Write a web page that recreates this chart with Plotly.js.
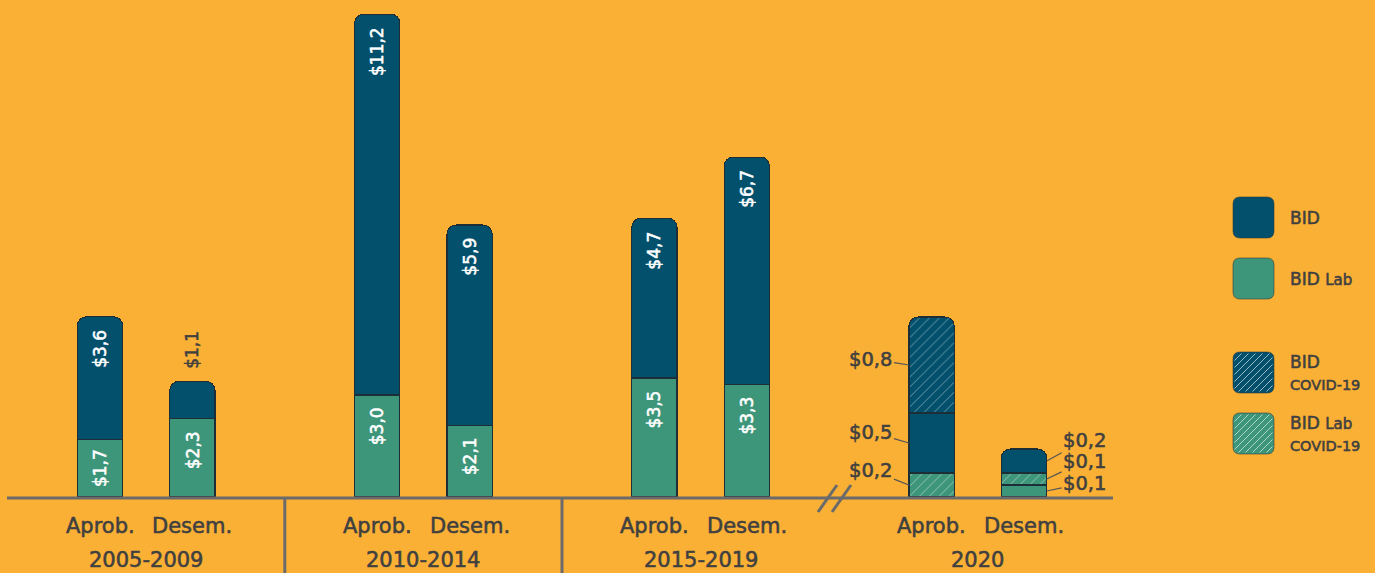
<!DOCTYPE html>
<html>
<head>
<meta charset="utf-8">
<script src="https://cdn.plot.ly/plotly-3.0.1.min.js"></script>
<style>
  html, body { margin: 0; padding: 0; background: #FAAF35; }
  #chart { width: 1375px; height: 573px; }
</style>
</head>
<body>
<div id="chart"></div>
<script>
// ---------------- DATA ----------------
const periods = ['2005-2009', '2010-2014', '2015-2019', '2020'];
const stages = ['Aprob.', 'Desem.'];
// 2005-2019 (Aprob., Desem. per period) in US$ billions
const bidLab = [1.7, 2.3, 3.0, 2.1, 3.5, 3.3];
const bid = [3.6, 1.1, 11.2, 5.9, 4.7, 6.7];
// 2020 (Aprob., Desem.) – drawn on its own scale
const bidLab2020 = [null, 0.1];
const bidLabCovid2020 = [0.2, 0.1];
const bid2020 = [0.5, 0.2];
const bidCovid2020 = [0.8, null];
const legendLabels = ['BID', 'BID <span style="font-size:15px">Lab</span>', 'BID<br><span style="font-size:14.5px">COVID-19</span>', 'BID <span style="font-size:15px">Lab</span><br><span style="font-size:14.5px">COVID-19</span>'];

// ---------------- STYLE ----------------
const BG = '#FAAF35', DARK = '#02506C', GREEN = '#3E967A', TXT = '#404040', AX = '#6B6B6B';
const W = 1375, H = 573, MB = 76, PH = H - MB;
const FONT = 'DejaVu Sans';

// categories with spacer slots between periods
const allCats = [];
const keyOf = (p, s) => p + ' ' + s;
periods.forEach((p, i) => {
  stages.forEach(s => allCats.push(keyOf(p, s)));
  if (i < periods.length - 1) allCats.push(' '.repeat(i + 1));
});
const mainX = [];
periods.slice(0, 3).forEach(p => stages.forEach(s => mainX.push(keyOf(p, s))));
const x2020 = stages.map(s => keyOf('2020', s));

const fmt = v => '$' + v.toFixed(1).replace('.', ',');
const yMax = 14.62, y2Max = 4.142;
const pxPerUnit = PH / yMax;
const BARW = 0.49;

const line = { color: '#1d2e36', width: 1.1 };
const hatch = (bg) => ({ shape: '/', size: 7, solidity: 0.1, bgcolor: bg, fgcolor: '#ffffff', fgopacity: 0.6 });

const traces = [
  { type: 'scatter', x: allCats, y: allCats.map(() => null), mode: 'none', showlegend: false, hoverinfo: 'skip' },
  { type: 'bar', name: 'BID Lab', x: mainX, y: bidLab, width: BARW, marker: { color: GREEN, line } },
  { type: 'bar', name: 'BID', x: mainX, y: bid, width: BARW, marker: { color: DARK, line } },
  { type: 'bar', name: 'BID Lab', x: x2020, y: bidLab2020, yaxis: 'y2', width: BARW, marker: { color: GREEN, line } },
  { type: 'bar', name: 'BID Lab COVID-19', x: x2020, y: bidLabCovid2020, yaxis: 'y2', width: BARW, marker: { color: GREEN, line, pattern: hatch(GREEN) } },
  { type: 'bar', name: 'BID', x: x2020, y: bid2020, yaxis: 'y2', width: BARW, marker: { color: DARK, line } },
  { type: 'bar', name: 'BID COVID-19', x: x2020, y: bidCovid2020, yaxis: 'y2', width: BARW, marker: { color: DARK, line, pattern: hatch(DARK) } },
];

// ---------------- ANNOTATIONS ----------------
const ann = [];
const inFont = { family: FONT, size: 17, color: '#ffffff' };
const TEXTLEN = 42;
mainX.forEach((k, i) => {
  const g = bidLab[i], b = bid[i];
  if (g * pxPerUnit < TEXTLEN + 22) {
    ann.push({ x: k, y: g / 2, yref: 'y', text: fmt(g), textangle: -90, showarrow: false, font: inFont, yanchor: 'middle' });
  } else {
    ann.push({ x: k, y: g, yref: 'y', text: fmt(g), textangle: -90, showarrow: false, font: inFont, yanchor: 'top', yshift: -10 });
  }
  if (b * pxPerUnit < TEXTLEN + 20) {
    ann.push({ x: k, y: g + b, yref: 'y', text: fmt(b), textangle: -90, showarrow: false, font: { family: FONT, size: 17, color: TXT }, yanchor: 'bottom', yshift: 11 });
  } else {
    ann.push({ x: k, y: g + b, yref: 'y', text: fmt(b), textangle: -90, showarrow: false, font: inFont, yanchor: 'top', yshift: -11 });
  }
});

// 2020 callouts
const cFont = { family: FONT, size: 19.5, color: TXT };
const halfBarPx = BARW * 92.4 / 2;
const call = (k, yv, txt, side, ay) => ann.push({
  x: k, y: yv, yref: 'y2', text: txt, font: cFont, showarrow: true, arrowhead: 0, arrowwidth: 1.2,
  arrowcolor: '#555555', ax: side * 38, ay: ay, xshift: side * halfBarPx, standoff: 0
});
{
  const kA = x2020[0], kD = x2020[1];
  let base = 0;
  call(kA, base + bidLabCovid2020[0] / 2, fmt(bidLabCovid2020[0]), -1, -15); base += bidLabCovid2020[0];
  call(kA, base + bid2020[0] / 2, fmt(bid2020[0]), -1, -11); base += bid2020[0];
  call(kA, base + bidCovid2020[0] / 2, fmt(bidCovid2020[0]), -1, -6);
  base = 0;
  call(kD, base + bidLab2020[1] / 2, fmt(bidLab2020[1]), 1, -8); base += bidLab2020[1];
  call(kD, base + bidLabCovid2020[1] / 2, fmt(bidLabCovid2020[1]), 1, -18); base += bidLabCovid2020[1];
  call(kD, base + bid2020[1] / 2, fmt(bid2020[1]), 1, -21);
}

// axis labels
const py = p => (PH - p) / PH;   // pixel y -> paper y
const px = p => p / W;           // pixel x -> paper x
const lblFont = { family: FONT, size: 21, color: TXT };
periods.forEach(p => {
  stages.forEach(s => ann.push({ x: keyOf(p, s), y: py(526), yref: 'paper', text: s, showarrow: false, font: lblFont, yanchor: 'middle' }));
  const idx = allCats.indexOf(keyOf(p, stages[0])) + 0.5;
  ann.push({ x: idx, y: py(560), yref: 'paper', text: p, showarrow: false, font: lblFont, yanchor: 'middle', borderpad: 0 });
});

// ---------------- SHAPES ----------------
const shapes = [];
shapes.push({ type: 'line', xref: 'paper', yref: 'paper', x0: px(7), x1: px(1113), y0: py(498), y1: py(498), line: { color: AX, width: 3 }, layer: 'above' });
[' ', '  '].forEach(g => shapes.push({ type: 'line', xref: 'x', yref: 'paper', x0: g, x1: g, y0: py(498), y1: py(575), line: { color: AX, width: 3 } }));
shapes.push({ type: 'line', xref: 'paper', yref: 'paper', x0: px(818), y0: py(512), x1: px(837), y1: py(485), line: { color: AX, width: 3 } });
shapes.push({ type: 'line', xref: 'paper', yref: 'paper', x0: px(832), y0: py(512), x1: px(851), y1: py(485), line: { color: AX, width: 3 } });

// legend swatches
const sw = [
  { y0: 197, fill: DARK, hatch: false },
  { y0: 258, fill: GREEN, hatch: false },
  { y0: 352, fill: DARK, hatch: true },
  { y0: 413, fill: GREEN, hatch: true },
];
const SX0 = 1233, SX1 = 1274, SS = 41, R = 7;
const roundRect = (x0, y0, x1, y1, r) => {
  const P = (x, y) => px(x) + ',' + py(y);
  return 'M' + P(x0 + r, y0) + ' L' + P(x1 - r, y0) + ' Q' + P(x1, y0) + ' ' + P(x1, y0 + r) +
    ' L' + P(x1, y1 - r) + ' Q' + P(x1, y1) + ' ' + P(x1 - r, y1) +
    ' L' + P(x0 + r, y1) + ' Q' + P(x0, y1) + ' ' + P(x0, y1 - r) +
    ' L' + P(x0, y0 + r) + ' Q' + P(x0, y0) + ' ' + P(x0 + r, y0) + ' Z';
};
sw.forEach((s, i) => {
  const y0 = s.y0, y1 = s.y0 + SS;
  shapes.push({ type: 'path', xref: 'paper', yref: 'paper', path: roundRect(SX0, y0, SX1, y1, R), fillcolor: s.fill, line: { color: 'rgba(40,55,60,0.55)', width: 1 } });
  if (s.hatch) {
    let d = '';
    const inset = 1.5;
    const a0 = SX0 + inset, a1 = SX1 - inset, b0 = y0 + inset, b1 = y1 - inset;
    for (let c = a0 + b0 + 7; c < a1 + b1 - 3; c += 7) {
      const xa = Math.max(a0, c - b1), xb = Math.min(a1, c - b0);
      if (xb - xa < 1) continue;
      d += 'M' + px(xa) + ',' + py(c - xa) + ' L' + px(xb) + ',' + py(c - xb) + ' ';
    }
    shapes.push({ type: 'path', xref: 'paper', yref: 'paper', path: d, line: { color: 'rgba(255,255,255,0.6)', width: 1 } });
  }
  ann.push({ xref: 'paper', yref: 'paper', x: px(1288), y: py((y0 + y1) / 2), xanchor: 'left', yanchor: 'middle', align: 'left',
    text: legendLabels[i], showarrow: false, font: { family: FONT, size: 17, color: TXT } });
});

// ---------------- LAYOUT ----------------
const hiddenAxis = { showgrid: false, zeroline: false, showline: false, showticklabels: false, ticks: '', fixedrange: true };
const layout = {
  width: W, height: H,
  margin: { l: 0, r: 0, t: 0, b: MB, pad: 0 },
  paper_bgcolor: BG, plot_bgcolor: BG,
  barmode: 'stack', barcornerradius: 9,
  showlegend: false,
  xaxis: Object.assign({}, hiddenAxis, { type: 'category', categoryorder: 'array', categoryarray: allCats, range: [-1.0823, 13.7987] }),
  yaxis: Object.assign({}, hiddenAxis, { range: [0, yMax] }),
  yaxis2: Object.assign({}, hiddenAxis, { range: [0, y2Max], overlaying: 'y' }),
  annotations: ann,
  shapes: shapes,
  font: { family: FONT, color: TXT },
};
Plotly.newPlot('chart', traces, layout, { displayModeBar: false, staticPlot: true }).then(() => {
  // slightly heavier text weight (medium) like the reference typeface
  document.querySelectorAll('#chart .annotation-text').forEach(t => {
    const f = t.style.fill;
    if (f) { t.style.stroke = f; t.style.strokeWidth = '0.55px'; }
  });
});
</script>
</body>
</html>
